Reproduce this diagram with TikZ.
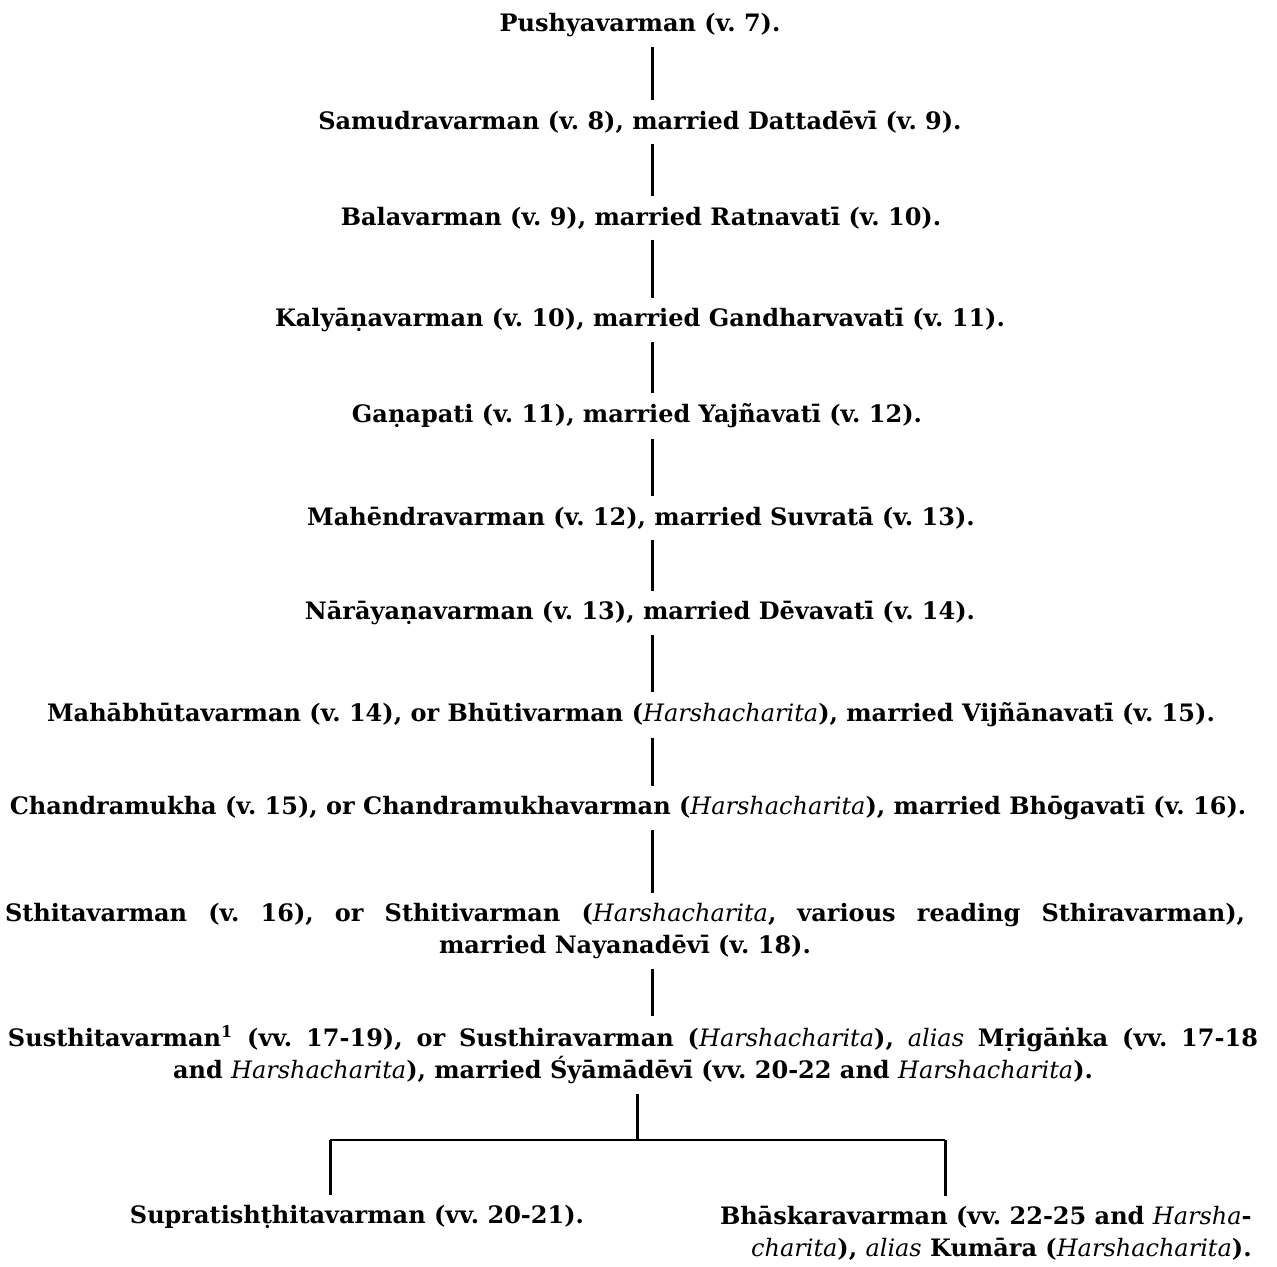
\documentclass[tikz,border=0pt]{standalone}
\usepackage{fontspec}
\setmainfont{DejaVu Serif}
\frenchspacing
\newcommand{\HC}{\textit{\mdseries Harshacharita}}
\tikzset{
  king/.style={font=\bfseries\fontsize{12}{16}\selectfont,inner sep=5pt,align=center},
  link/.style={line width=1.5pt},
  bar/.style={line width=0.8pt}
}
\begin{document}
\begin{tikzpicture}[x=0.5pt,y=-0.5pt]
  \useasboundingbox (0,0) rectangle (1277,1266);
  \coordinate (col) at (652,0);
  \node[king] (pushya) at (640,25) {Pushyavarman (v. 7).};
  \node[king] (samudra) at (640,122) {Samudravarman (v. 8), married Dattadēvī (v. 9).};
  \node[king] (bala) at (641,218) {Balavarman (v. 9), married Ratnavatī (v. 10).};
  \node[king] (kalyana) at (640,320) {Kalyāṇavarman (v. 10), married Gandharvavatī (v. 11).};
  \node[king] (ganapati) at (637,416) {Gaṇapati (v. 11), married Yajñavatī (v. 12).};
  \node[king] (mahendra) at (641,518) {Mahēndravarman (v. 12), married Suvratā (v. 13).};
  \node[king] (narayana) at (640,613) {Nārāyaṇavarman (v. 13), married Dēvavatī (v. 14).};
  \node[king] (mahabhuta) at (631,715) {Mahābhūtavarman (v. 14), or Bhūtivarman (\HC), married Vijñānavatī (v. 15).};
  \node[king] (chandra) at (628,808) {Chandramukha (v. 15), or Chandramukhavarman (\HC), married Bhōgavatī (v. 16).};
  \node[king] (sthita) at (625,931) {\makebox[620pt][s]{Sthitavarman (v. 16), or Sthitivarman (\HC, various reading Sthiravarman),}\\ married Nayanadēvī (v. 18).};
  \node[king] (susthita) at (633,1055) {\makebox[625pt][s]{Susthitavarman\textsuperscript{1} (vv. 17-19), or Susthiravarman (\HC), \textit{\mdseries alias} Mṛigāṅka (vv. 17-18}\\ and \HC), married Śyāmādēvī (vv. 20-22 and \HC).};
  \node[king] (supra) at (357,1217) {Supratishṭhitavarman (vv. 20-21).};
  \node[king,anchor=east,align=right] (bhaskara) at (1262,1233) {Bhāskaravarman (vv. 22-25 and \textit{\mdseries Harsha}-\\ \textit{\mdseries charita}), \textit{\mdseries alias} Kumāra (\HC).};
  % line of descent
  \draw[link] (pushya.south -| col) -- (samudra.north -| col);
  \draw[link] (samudra.south -| col) -- (bala.north -| col);
  \draw[link] (bala.south -| col) -- (kalyana.north -| col);
  \draw[link] (kalyana.south -| col) -- (ganapati.north -| col);
  \draw[link] (ganapati.south -| col) -- (mahendra.north -| col);
  \draw[link] (mahendra.south -| col) -- (narayana.north -| col);
  \draw[link] (narayana.south -| col) -- (mahabhuta.north -| col);
  \draw[link] (mahabhuta.south -| col) -- (chandra.north -| col);
  \draw[link] (chandra.south -| col) -- (sthita.north -| col);
  \draw[link] (sthita.south -| col) -- (susthita.north -| col);
  % the two sons
  \coordinate (fork) at (637,1140);
  \coordinate (forkL) at (330,1140);
  \coordinate (forkR) at (945,1140);
  \draw[link] (susthita.south -| fork) -- (fork);
  \draw[bar] (forkL) -- (forkR);
  \draw[link] (forkL) -- (forkL |- supra.north);
  \draw[link] (forkR) -- (forkR |- bhaskara.north);
\end{tikzpicture}
\end{document}
